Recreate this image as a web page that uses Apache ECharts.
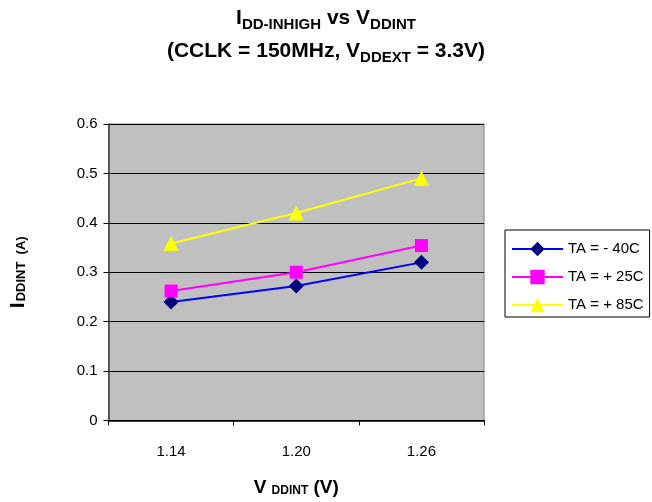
<!DOCTYPE html>
<html>
<head>
<meta charset="utf-8">
<script src="https://cdn.jsdelivr.net/npm/echarts@6/dist/echarts.min.js"></script>
<style>
html, body { margin: 0; padding: 0; background: #ffffff; }
#chart { width: 652px; height: 502px; }
</style>
</head>
<body>
<div id="chart"></div>
<script>
// Supply voltage categories (V)
const voltages = ['1.14', '1.20', '1.26'];
// Legend labels for the three ambient temperatures
const seriesNames = ['TA = - 40C', 'TA = + 25C', 'TA = + 85C'];
// Internal supply current (A) at each temperature
const currentMinus40 = [0.24, 0.272, 0.32];
const currentPlus25 = [0.262, 0.30, 0.354];
const currentPlus85 = [0.358, 0.42, 0.49];
// Value axis range
const yMin = 0;
const yMax = 0.6;
const yStep = 0.1;

const FONT = 'Liberation Sans, Arial, sans-serif';

const chart = echarts.init(document.getElementById('chart'), null, { renderer: 'canvas' });

function bold(size, extra) {
  return Object.assign({ fontSize: size, fontWeight: 'bold', fontFamily: FONT, color: '#000' }, extra || {});
}

chart.setOption({
  animation: false,
  backgroundColor: '#ffffff',
  title: {
    left: 'center',
    top: -3,
    text: '{m|I}{s|DD-INHIGH}{m| vs V}{s|DDINT}\n{m|(CCLK = 150MHz, V}{s|DDEXT}{m| = 3.3V)}',
    textStyle: {
      lineHeight: 33,
      rich: {
        m: bold(21, { lineHeight: 33 }),
        s: bold(15, { lineHeight: 33, padding: [12, 0, 0, 0] })
      }
    }
  },
  legend: {
    orient: 'vertical',
    left: 505,
    top: 230,
    itemWidth: 51,
    itemHeight: 18,
    itemGap: 12,
    padding: [11, 6, 4, 6],
    borderColor: '#000',
    borderWidth: 1,
    borderRadius: 0,
    textStyle: { fontSize: 15, fontFamily: FONT, color: '#000', lineHeight: 16 },
    data: seriesNames
  },
  grid: {
    left: 108,
    top: 124,
    width: 376,
    height: 300,
    show: true,
    backgroundColor: '#C0C0C0',
    borderColor: '#808080',
    borderWidth: 1
  },
  xAxis: {
    type: 'category',
    data: voltages,
    boundaryGap: true,
    axisLine: { lineStyle: { color: '#000', width: 1.5 } },
    axisTick: { show: true, length: 5, inside: false, lineStyle: { color: '#000' } },
    axisLabel: { fontSize: 15, fontFamily: FONT, color: '#000', margin: 24 },
    name: '{b|V }{s|DDINT}{b| (V)}',
    nameLocation: 'middle',
    nameGap: 56,
    nameTextStyle: {
      rich: {
        b: bold(19, { lineHeight: 22 }),
        s: bold(12, { lineHeight: 22, padding: [6, 0, 0, 0] })
      }
    }
  },
  yAxis: {
    type: 'value',
    min: yMin,
    max: yMax,
    interval: yStep,
    axisLine: { show: true, lineStyle: { color: '#404040', width: 1.5 } },
    axisTick: { show: true, length: 5, lineStyle: { color: '#000' } },
    axisLabel: { fontSize: 15, fontFamily: FONT, color: '#000', margin: 11 },
    splitLine: { show: true, lineStyle: { color: '#000', width: 1 } },
    name: '{b|I}{s|DDINT  (A)}',
    nameLocation: 'middle',
    nameRotate: 90,
    nameGap: 78,
    nameTextStyle: {
      rich: {
        b: bold(21, { lineHeight: 24 }),
        s: bold(13, { lineHeight: 24, padding: [6, 0, 0, 1] })
      }
    }
  },
  series: [
    {
      name: seriesNames[0],
      type: 'line',
      data: currentMinus40,
      symbol: 'diamond',
      symbolSize: 15,
      itemStyle: { color: '#000080' },
      lineStyle: { color: '#0000FF', width: 2 }
    },
    {
      name: seriesNames[1],
      type: 'line',
      data: currentPlus25,
      symbol: 'rect',
      symbolSize: 13,
      itemStyle: { color: '#FF00FF' },
      lineStyle: { color: '#FF00FF', width: 2 }
    },
    {
      name: seriesNames[2],
      type: 'line',
      data: currentPlus85,
      symbol: 'triangle',
      symbolSize: 15,
      itemStyle: { color: '#FFFF00' },
      lineStyle: { color: '#FFFF00', width: 2 }
    }
  ]
});
</script>
</body>
</html>
